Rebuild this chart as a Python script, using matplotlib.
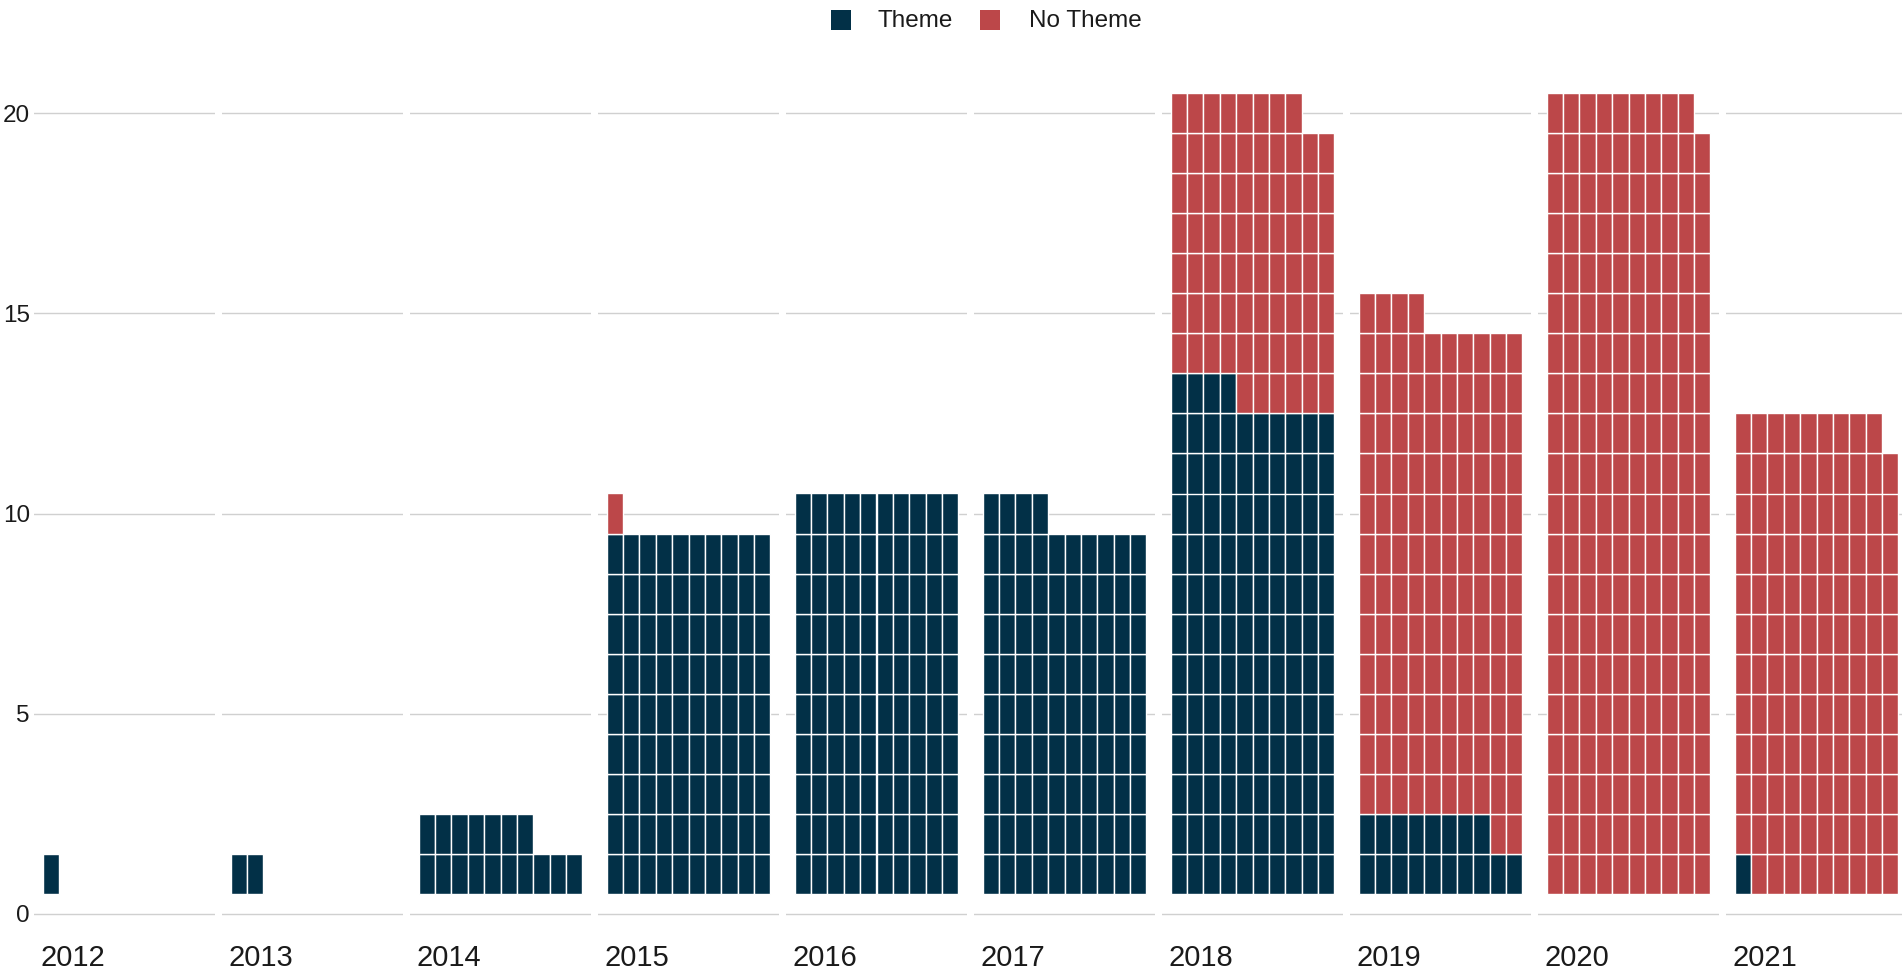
import numpy as np
import matplotlib
matplotlib.use("Agg")
import matplotlib.pyplot as plt
from matplotlib.patches import Rectangle

years = [2012, 2013, 2014, 2015, 2016, 2017, 2018, 2019, 2020, 2021]
theme = [1, 2, 17, 90, 100, 94, 124, 18, 0, 1]
no_theme = [0, 0, 0, 1, 0, 0, 74, 126, 199, 118]
y_ticks = [0, 5, 10, 15, 20]
series_names = ["Theme", "No Theme"]
colors = ["#023047", "#bc4749"]
ncols = 10

plt.rcParams['font.family'] = ['Liberation Sans', 'DejaVu Sans']

W, H = 1902, 977
fig = plt.figure(figsize=(W / 100, H / 100), dpi=100)

left0 = 34
pitch = 188
pw = 181
top_px = 53
bot_px = 934

for i, yr in enumerate(years):
    l = left0 + i * pitch
    ax = fig.add_axes([l / W, (H - bot_px) / H, pw / W, (bot_px - top_px) / H])
    counts = [theme[i], no_theme[i]]
    start = 0
    for s, n in enumerate(counts):
        if n > 0:
            idx = np.arange(start, start + n)
            cols = idx % ncols + 1
            rows = idx // ncols + 1
            ax.bar(cols, 1.0, bottom=rows - 0.5, width=1.0, color=colors[s],
                   edgecolor="white", linewidth=1.0, zorder=2)
        start += n
    ax.set_xlim(-0.02, 11.02)
    ax.set_ylim(-0.5, 21.5)
    for sp in ax.spines.values():
        sp.set_visible(False)
    ax.set_xticks([])
    ax.set_yticks(y_ticks)
    ax.grid(axis="y", color="#d0d0d0", linewidth=1.0, zorder=0)
    ax.set_axisbelow(True)
    ax.tick_params(axis="y", length=0, pad=3, labelsize=17.5, labelcolor="#1a1a1a")
    if i > 0:
        ax.set_yticklabels([])
    fig.text((l + 6) / W, 1 - 958 / H, str(yr), ha="left", va="center",
             fontsize=21, color="#1a1a1a")

# legend
leg_items = [(831, 878), (980, 1029)]
for (sx, tx), name, c in zip(leg_items, series_names, colors):
    fig.add_artist(Rectangle((sx / W, 1 - 30 / H), 20 / W, 20 / H,
                             transform=fig.transFigure, facecolor=c, edgecolor="none"))
    fig.text(tx / W, 1 - 21 / H, name, ha="left", va="center", fontsize=17.5,
             color="#1a1a1a")

fig.savefig("out.png", dpi=100)
